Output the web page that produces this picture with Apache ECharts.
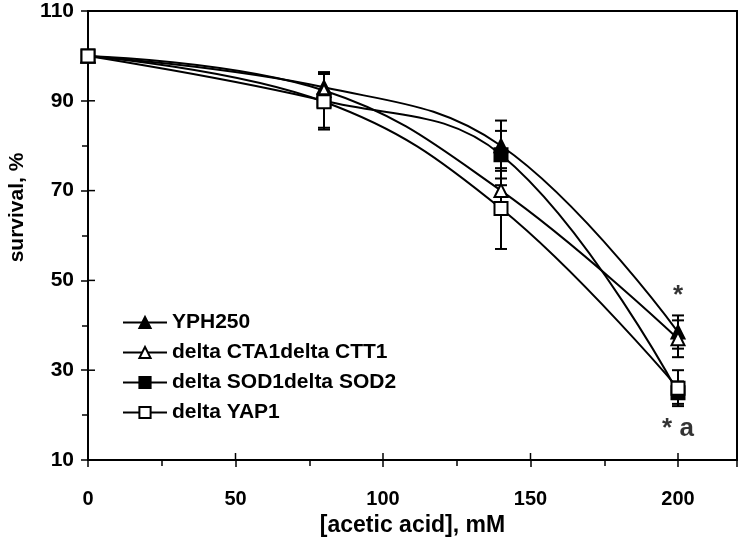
<!DOCTYPE html>
<html>
<head>
<meta charset="utf-8">
<script src="https://cdn.jsdelivr.net/npm/echarts@6/dist/echarts.min.js"></script>
<style>
html,body{margin:0;padding:0;background:#fff;}
#main{width:740px;height:537px;}
</style>
</head>
<body>
<div id="main"></div>
<script>
// acid concentrations (mM)
var conc = [0, 80, 140, 200];

// survival, %
var yph250 = [100, 93, 80, 38.5];
var cta1ctt1 = [100, 92.3, 70, 37];
var sod1sod2 = [100, 90, 78, 25];
var yap1 = [100, 89.8, 66, 26];

// error bars (+/-)
var errYph = [0, 3.4, 5.6, 3.7];
var errCta = [0, 3.8, 1.2, 4.1];
var errSod = [0, 6, 5.3, 2.5];
var errYap = [0, 6.2, 9, 4];

var names = ['YPH250', 'delta CTA1delta CTT1', 'delta SOD1delta SOD2', 'delta YAP1'];
var xTicks = [0, 50, 100, 150, 200];
var yTicks = [10, 30, 50, 70, 90, 110];

// significance marks
var notes = [[200, 46.5, '*'], [200, 17.0, '* a']];

var FONT = 'Liberation Sans, Arial, sans-serif';

function pairs(vals) {
    return conc.map(function (c, i) { return [c, vals[i]]; });
}
function errPairs(vals, errs) {
    return conc.map(function (c, i) { return [c, vals[i], errs[i]]; });
}

function errRender(params, api) {
    var x = api.value(0), y = api.value(1), e = api.value(2);
    if (!e) return;
    var top = api.coord([x, y + e]);
    var bot = api.coord([x, y - e]);
    var w = 6;
    var st = { stroke: '#000', lineWidth: 2 };
    return {
        type: 'group',
        children: [
            { type: 'line', shape: { x1: top[0], y1: top[1], x2: bot[0], y2: bot[1] }, style: st },
            { type: 'line', shape: { x1: top[0] - w, y1: top[1], x2: top[0] + w, y2: top[1] }, style: st },
            { type: 'line', shape: { x1: bot[0] - w, y1: bot[1], x2: bot[0] + w, y2: bot[1] }, style: st }
        ]
    };
}

// inner half of the major ticks (they cross the axis line)
function innerTick(params, api) {
    var p = api.coord([api.value(0), api.value(1)]);
    var horiz = api.value(2) === 1;
    return {
        type: 'line',
        shape: horiz ? { x1: p[0], y1: p[1], x2: p[0] + 7, y2: p[1] }
                     : { x1: p[0], y1: p[1], x2: p[0], y2: p[1] - 7 },
        style: { stroke: '#000', lineWidth: 1.5 }
    };
}
var tickData = xTicks.map(function (v) { return [v, yTicks[0], 0]; })
    .concat(yTicks.map(function (v) { return [xTicks[0], v, 1]; }));

var markers = [
    { symbol: 'triangle', fill: '#000' },
    { symbol: 'triangle', fill: '#fff' },
    { symbol: 'rect', fill: '#000' },
    { symbol: 'rect', fill: '#fff' }
];
var allVals = [yph250, cta1ctt1, sod1sod2, yap1];
var allErrs = [errYph, errCta, errSod, errYap];

var series = [{
    type: 'custom',
    renderItem: innerTick,
    data: tickData,
    clip: false,
    silent: true,
    z: 1
}];
allVals.forEach(function (v, i) {
    series.push({
        type: 'custom',
        renderItem: errRender,
        data: errPairs(v, allErrs[i]),
        z: 2,
        silent: true
    });
});
allVals.forEach(function (v, i) {
    series.push({
        name: names[i],
        type: 'line',
        data: pairs(v),
        smooth: 0.4,
        symbol: markers[i].symbol,
        symbolSize: 13,
        showAllSymbol: true,
        lineStyle: { color: '#000', width: 2 },
        itemStyle: { color: markers[i].fill, borderColor: '#000', borderWidth: 2 },
        z: 3 + i
    });
});
series.push({
    type: 'scatter',
    data: notes.map(function (n) { return [n[0], n[1], n[2]]; }),
    symbolSize: 0,
    silent: true,
    label: {
        show: true,
        position: 'inside',
        formatter: function (p) { return p.data[2]; },
        color: '#000',
        fontFamily: FONT,
        fontWeight: 'bold',
        fontSize: 26
    },
    z: 10
});

var tickStyle = { color: '#000', width: 1.5 };
var myChart = echarts.init(document.getElementById('main'));

option = {
    animation: false,
    backgroundColor: '#fff',
    grid: {
        left: 88, right: 3, top: 11, bottom: 77,
        outerBoundsMode: 'none',
        containLabel: false,
        show: true, borderColor: '#000', borderWidth: 2
    },
    legend: {
        data: names,
        orient: 'vertical',
        left: 117, top: 307,
        itemWidth: 44, itemHeight: 14,
        itemGap: 9,
        textStyle: { fontFamily: FONT, fontWeight: 'bold', fontSize: 21, color: '#000' },
        selectedMode: false
    },
    xAxis: {
        type: 'value', min: 0, max: 220, interval: 50,
        name: '[acetic acid], mM', nameLocation: 'middle', nameGap: 43,
        nameTextStyle: { fontFamily: FONT, fontWeight: 'bold', fontSize: 23, color: '#000' },
        axisLine: { lineStyle: { color: '#000', width: 2 } },
        axisTick: { length: 7, lineStyle: tickStyle },
        minorTick: { show: true, splitNumber: 2, length: 6, lineStyle: tickStyle },
        axisLabel: {
            margin: 29, fontFamily: FONT, fontWeight: 'bold', fontSize: 20, color: '#000',
            formatter: function (v) { return xTicks.indexOf(v) >= 0 ? v : ''; }
        },
        splitLine: { show: false }
    },
    yAxis: {
        type: 'value', min: 10, max: 110, interval: 20,
        name: 'survival, %', nameLocation: 'middle', nameGap: 60,
        nameTextStyle: { fontFamily: FONT, fontWeight: 'bold', fontSize: 21, color: '#000', padding: [0, 0, 0, 56] },
        axisLine: { lineStyle: { color: '#000', width: 2 } },
        axisTick: { length: 7, lineStyle: tickStyle },
        minorTick: { show: true, splitNumber: 2, length: 6, lineStyle: tickStyle },
        axisLabel: {
            margin: 14, fontFamily: FONT, fontWeight: 'bold', fontSize: 21, color: '#000',
            formatter: function (v) { return yTicks.indexOf(v) >= 0 ? v : ''; }
        },
        splitLine: { show: false }
    },
    series: series
};

myChart.setOption(option);
</script>
</body>
</html>
